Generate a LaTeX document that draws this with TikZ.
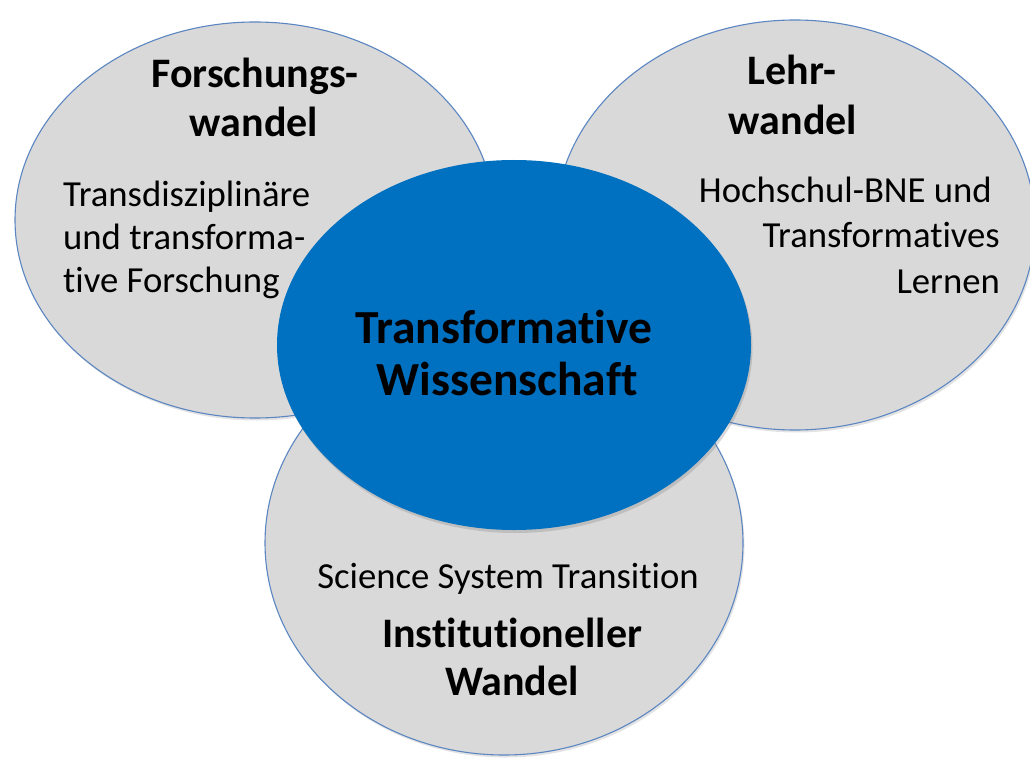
\documentclass[tikz,border=0pt]{standalone}
\usepackage{fontspec}
\setmainfont[Ligatures={NoCommon}]{Carlito}
\usetikzlibrary{shapes.geometric,shadows}
\definecolor{greyfill}{HTML}{D9D9D9}
\definecolor{rim}{HTML}{5B86C2}
\definecolor{core}{HTML}{0070C0}
\tikzset{
  petal/.style={ellipse, draw=rim, line width=1.1pt, fill=greyfill, inner sep=0pt,
    drop shadow={opacity=0.22, shadow xshift=1.5pt, shadow yshift=-2.5pt}},
  hub/.style={ellipse, draw=none, fill=core, inner sep=0pt,
    drop shadow={opacity=0.3, shadow xshift=1.5pt, shadow yshift=-3pt}},
  headtxt/.style={font=\fontsize{42}{50}\selectfont\bfseries, inner sep=0pt, anchor=base},
  hubtxt/.style={font=\fontsize{47.5}{56}\selectfont\bfseries, inner sep=0pt, anchor=base},
  bodytxt/.style={font=\fontsize{36.7}{44}\selectfont, inner sep=0pt},
}
\begin{document}
\begin{tikzpicture}[x=1pt,y=-1pt]
\useasboundingbox (0,0) rectangle (1030,759);
\clip (0,0) rectangle (1030,759);
% petals
\node[petal, minimum width=480pt, minimum height=396pt] (L) at (255,220) {};
\node[petal, minimum width=480pt, minimum height=410pt] (R) at (795,225) {};
\node[petal, minimum width=478pt, minimum height=424pt] (B) at (504,543) {};
% hub
\node[hub, minimum width=474pt, minimum height=370pt] (H) at (514,345) {};
% left texts
\node[headtxt] (L1) at (255,88) {Forschungs-};
\node[headtxt] (L2) at (254,137) {wandel};
\node[bodytxt, anchor=base west] (L3) at (63,207) {Transdisziplinäre};
\node[bodytxt, anchor=base west] (L4) at (63,250) {und transforma-};
\node[bodytxt, anchor=base west] (L5) at (63,292) {tive Forschung};
% right texts
\node[headtxt] (R1) at (792,85) {Lehr-};
\node[headtxt] (R2) at (793,135) {wandel};
\node[bodytxt, anchor=base east] (R3) at (992,203) {Hochschul-BNE und};
\node[bodytxt, anchor=base east] (R4) at (1000,248) {Transformatives};
\node[bodytxt, anchor=base east] (R5) at (1000,293) {Lernen};
% bottom texts
\node[bodytxt, anchor=base] (B1) at (508,588) {Science System Transition};
\node[headtxt] (B2) at (512,647) {Institutioneller};
\node[headtxt] (B3) at (512,695) {Wandel};
% hub texts
\node[hubtxt] (H1) at (504,343) {Transformative};
\node[hubtxt] (H2) at (507,395) {Wissenschaft};
\end{tikzpicture}
\end{document}
